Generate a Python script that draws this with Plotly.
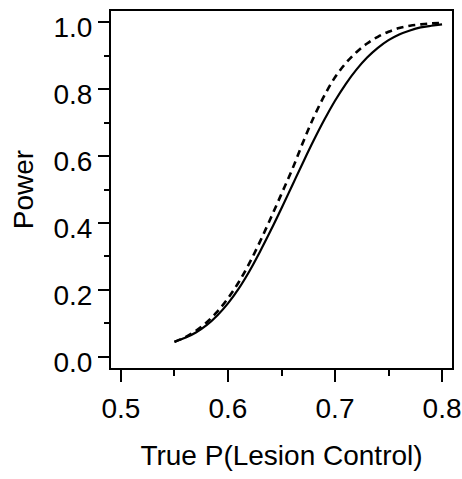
import plotly.graph_objects as go

# true probability of lesion control
p_true = [0.55, 0.56, 0.57, 0.58, 0.59, 0.60, 0.61, 0.62, 0.63, 0.64,
          0.65, 0.66, 0.67, 0.68, 0.69, 0.70, 0.71, 0.72, 0.73, 0.74,
          0.75, 0.76, 0.77, 0.78, 0.79, 0.80]

# power, solid curve
power_solid = [0.045, 0.057, 0.073, 0.095, 0.124, 0.160, 0.204, 0.256, 0.315, 0.378,
               0.444, 0.512, 0.580, 0.646, 0.708, 0.765, 0.815, 0.858, 0.894, 0.923,
               0.946, 0.963, 0.975, 0.984, 0.989, 0.993]

# power, dashed curve
power_dashed = [0.045, 0.059, 0.078, 0.103, 0.135, 0.175, 0.223, 0.280, 0.345, 0.415,
                0.487, 0.560, 0.640, 0.715, 0.780, 0.835, 0.877, 0.910, 0.936, 0.956,
                0.971, 0.982, 0.989, 0.993, 0.996, 0.997]

FONT = "Liberation Sans, Arial, sans-serif"

fig = go.Figure()

fig.add_trace(go.Scatter(
    x=p_true, y=power_solid, mode="lines",
    line=dict(color="black", width=2.2, shape="spline"),
    showlegend=False,
))

fig.add_trace(go.Scatter(
    x=p_true, y=power_dashed, mode="lines",
    line=dict(color="black", width=2.6, dash="7px,5px", shape="spline"),
    showlegend=False,
))

fig.update_layout(
    width=462,
    height=479,
    margin=dict(l=111, r=10, t=11, b=111),
    paper_bgcolor="white",
    plot_bgcolor="white",
    font=dict(family=FONT, size=28, color="black"),
)

fig.update_xaxes(
    range=[0.4907, 0.8093],
    tickvals=[0.5, 0.6, 0.7, 0.8],
    ticktext=["0.5", "0.6", "0.7", "0.8"],
    tickfont=dict(size=28),
    ticklabeloverflow="allow",
    ticklabelstandoff=2,
    ticks="outside", ticklen=12, tickwidth=2, tickcolor="black",
    minor=dict(tickvals=[0.55, 0.65, 0.75], ticks="outside", ticklen=6,
               tickwidth=2, tickcolor="black", showgrid=False),
    showline=True, linewidth=2, linecolor="black", mirror=True,
    showgrid=False, zeroline=False, automargin=False,
    title=dict(text="True P(Lesion Control)", standoff=23, font=dict(size=28)),
)

fig.update_yaxes(
    range=[-0.033, 1.033],
    tickvals=[0.0, 0.2, 0.4, 0.6, 0.8, 1.0],
    ticktext=["0.0", "0.2", "0.4", "0.6", "0.8", "1.0"],
    tickfont=dict(size=28),
    ticklabeloverflow="allow",
    ticklabelshift=5,
    ticks="outside", ticklen=11, tickwidth=2, tickcolor="black",
    minor=dict(tickvals=[0.1, 0.3, 0.5, 0.7, 0.9], ticks="outside", ticklen=5,
               tickwidth=2, tickcolor="black", showgrid=False),
    showline=True, linewidth=2, linecolor="black", mirror=True,
    showgrid=False, zeroline=False, automargin=False,
    title=dict(text="Power", standoff=12, font=dict(size=28)),
)

# drop the default 8px body margin so the figure fills the window exactly
fig.write_html(
    "out.html",
    config={"displayModeBar": False},
    post_script="document.body.style.margin='0';",
)
